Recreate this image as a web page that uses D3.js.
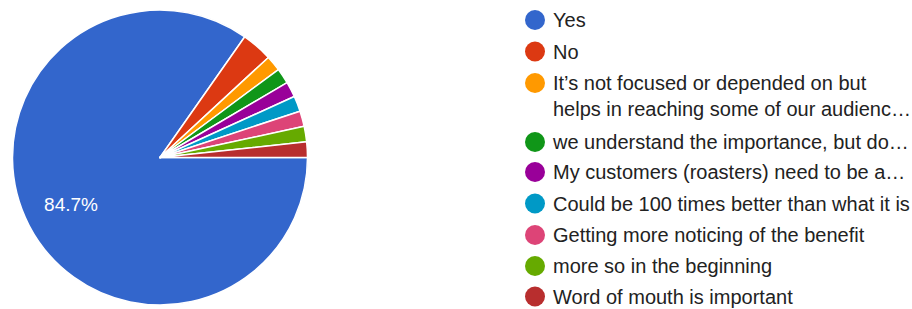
<!DOCTYPE html>
<html>
<head>
<meta charset="utf-8">
<script src="https://cdn.jsdelivr.net/npm/d3@7"></script>
<style>
  body { margin: 0; background: #fff; }
  svg text { font-family: "Liberation Sans", Arial, sans-serif; }
</style>
</head>
<body>
<svg id="chart" width="912" height="309"></svg>
<script>
// answers and counts (59 responses)
var categories = [
    "Yes",
    "No",
    "It\u2019s not focused or depended on but helps in reaching some of our audienc\u2026",
    "we understand the importance, but do\u2026",
    "My customers (roasters) need to be a\u2026",
    "Could be 100 times better than what it is",
    "Getting more noticing of the benefit",
    "more so in the beginning",
    "Word of mouth is important"
];
var counts = [50, 2, 1, 1, 1, 1, 1, 1, 1];
var colors = ["#3366cc", "#dc3912", "#ff9900", "#109618", "#990099",
              "#0099c6", "#dd4477", "#66aa00", "#b82e2e"];

var legendLines = [
    ["Yes"],
    ["No"],
    ["It\u2019s not focused or depended on but", "helps in reaching some of our audienc\u2026"],
    ["we understand the importance, but do\u2026"],
    ["My customers (roasters) need to be a\u2026"],
    ["Could be 100 times better than what it is"],
    ["Getting more noticing of the benefit"],
    ["more so in the beginning"],
    ["Word of mouth is important"]
];

var svg = d3.select("#chart");
var cx = 160, cy = 157.5, r = 147.5;
var total = d3.sum(counts);

var pie = d3.pie()
    .sort(null)
    .startAngle(Math.PI / 2)
    .endAngle(Math.PI / 2 + 2 * Math.PI);
var arc = d3.arc().innerRadius(0).outerRadius(r);
var labelArc = d3.arc().innerRadius(r * 0.68).outerRadius(r * 0.68);

var data = categories.map(function(c, i) {
    return { name: c, value: counts[i], color: colors[i] };
});
var arcs = pie.value(function(d) { return d.value; })(data);

var g = svg.append("g").attr("transform", "translate(" + cx + "," + cy + ")");
g.selectAll("path")
    .data(arcs)
    .enter()
    .append("path")
    .attr("d", arc)
    .attr("fill", function(d) { return d.data.color; })
    .attr("stroke", "#fff")
    .attr("stroke-width", 1.5)
    .attr("stroke-linejoin", "round");

// only slices big enough get a label
g.selectAll("text.pct")
    .data(arcs.filter(function(d) { return d.value / total > 0.05; }))
    .enter()
    .append("text")
    .attr("class", "pct")
    .attr("transform", function(d) { return "translate(" + labelArc.centroid(d) + ")"; })
    .attr("text-anchor", "middle")
    .attr("dy", "0.36em")
    .attr("fill", "#fff")
    .style("font-size", "19px")
    .text(function(d) { return (d.value / total * 100).toFixed(1) + "%"; });

// legend
var rowY = [20, 51.5, 83, 142, 172, 203.5, 235, 266, 296.5];
var lg = svg.append("g");
var items = lg.selectAll("g.item")
    .data(data)
    .enter()
    .append("g")
    .attr("class", "item")
    .attr("transform", function(d, i) { return "translate(535," + rowY[i] + ")"; });

items.append("circle")
    .attr("r", 10)
    .attr("fill", function(d) { return d.color; });

items.each(function(d, i) {
    var t = d3.select(this).append("text")
        .attr("x", 18)
        .attr("fill", "#222")
        .style("font-size", "20px");
    legendLines[i].forEach(function(line, j) {
        t.append("tspan")
            .attr("x", 18)
            .attr("y", j * 26)
            .attr("dy", "0.35em")
            .text(line);
    });
});
</script>
</body>
</html>
